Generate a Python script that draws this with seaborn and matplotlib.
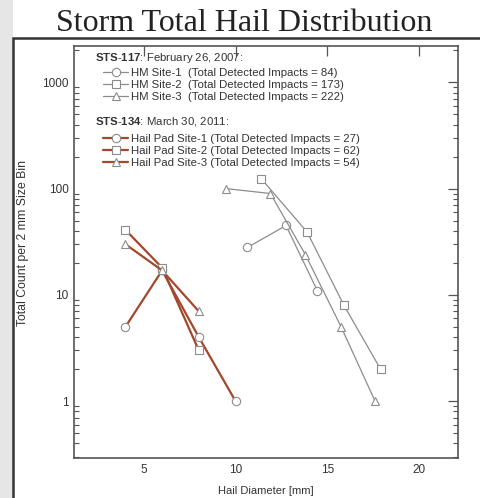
import matplotlib
matplotlib.use("Agg")
import matplotlib.pyplot as plt
import seaborn as sns
import numpy as np
from matplotlib.patches import Rectangle
from matplotlib.ticker import LogLocator, FixedLocator, NullFormatter, FuncFormatter

# ---- data ----
hm1_x = [10.65, 12.75, 14.45]
hm1_y = [28, 45, 11]
hm2_x = [11.4, 13.9, 15.9, 17.9]
hm2_y = [124, 39, 8, 2]
hm3_x = [9.5, 11.9, 13.8, 15.75, 17.6]
hm3_y = [100, 90, 24, 5, 1]

hp1_x = [4, 6, 8, 10]
hp1_y = [5, 17, 4, 1]
hp2_x = [4, 6, 8]
hp2_y = [41, 18, 3]
hp3_x = [4, 6, 8]
hp3_y = [30, 17, 7]

hm_labels = ["HM Site-1  (Total Detected Impacts = 84)",
             "HM Site-2  (Total Detected Impacts = 173)",
             "HM Site-3  (Total Detected Impacts = 222)"]
hp_labels = ["Hail Pad Site-1 (Total Detected Impacts = 27)",
             "Hail Pad Site-2 (Total Detected Impacts = 62)",
             "Hail Pad Site-3 (Total Detected Impacts = 54)"]
hm_header = r"$\mathbf{STS\text{-}117}$: February 26, 2007:"
hp_header = r"$\mathbf{STS\text{-}134}$: March 30, 2011:"
x_ticks = [5, 10, 15, 20]
y_ticks = [1, 10, 100, 1000]

sns.set_theme(style="white")
plt.rcParams['font.family'] = ['Liberation Sans', 'DejaVu Sans']
plt.rcParams['mathtext.fontset'] = 'custom'
plt.rcParams['mathtext.rm'] = 'Liberation Sans'
plt.rcParams['mathtext.bf'] = 'Liberation Sans:bold'

W, H = 481, 498
fig = plt.figure(figsize=(W / 100, H / 100), dpi=100)
fig.patch.set_facecolor('white')

# outer grey margin + frame
fig.patches.append(Rectangle((0, 0), 13 / W, 1, transform=fig.transFigure,
                             facecolor='#e6e6e6', edgecolor='none', zorder=-2))
fig.patches.append(Rectangle((13 / W, -0.02), 1.0, (H - 38.5) / H + 0.02,
                             transform=fig.transFigure, facecolor='white',
                             edgecolor='#333333', linewidth=1.8, zorder=-1))

fig.text(244 / W, (H - 31) / H, "Storm Total Hail Distribution", ha='center',
         va='baseline', fontsize=23, family='Liberation Serif', color='#222222')

ax = fig.add_axes([74 / W, (H - 458.3) / H, (457.7 - 74) / W, (458.3 - 46) / H])
ax.set_zorder(2)
ax.set_facecolor('white')

grey = '#8c8c8c'
brown = '#a3472d'
hm_sets = [(hm1_x, hm1_y, 'o'), (hm2_x, hm2_y, 's'), (hm3_x, hm3_y, '^')]
hp_sets = [(hp1_x, hp1_y, 'o'), (hp2_x, hp2_y, 's'), (hp3_x, hp3_y, '^')]

hm_handles = []
for (xs, ys, m), lab in zip(hm_sets, hm_labels):
    sns.lineplot(x=xs, y=ys, ax=ax, color=grey, linewidth=0.9, marker=m,
                 markersize=6, markerfacecolor='white', markeredgecolor=grey,
                 markeredgewidth=0.8, label=lab, legend=False)
    hm_handles.append(ax.lines[-1])
hp_handles = []
for (xs, ys, m), lab in zip(hp_sets, hp_labels):
    sns.lineplot(x=xs, y=ys, ax=ax, color=brown, linewidth=1.6, marker=m,
                 markersize=6, markerfacecolor='white', markeredgecolor=grey,
                 markeredgewidth=0.8, label=lab, legend=False)
    hp_handles.append(ax.lines[-1])

ax.set_yscale('log')
ax.set_xlim(1.2, 22.1)
ax.set_ylim(0.29, 2200)
ax.xaxis.set_major_locator(FixedLocator(x_ticks))
ax.yaxis.set_major_locator(FixedLocator(y_ticks))
ax.yaxis.set_major_formatter(FuncFormatter(lambda v, p: f"{v:g}"))
ax.yaxis.set_minor_locator(LogLocator(base=10, subs=np.arange(2, 10)))
ax.yaxis.set_minor_formatter(NullFormatter())

ax.tick_params(axis='both', which='major', direction='in', length=7, width=0.9,
               color='#555555', labelsize=8.5, labelcolor='#333333',
               top=True, right=True, pad=4)
ax.tick_params(axis='y', which='minor', direction='in', length=3.5, width=0.8,
               color='#555555', left=True, right=True)
for s in ax.spines.values():
    s.set_color('#555555')
    s.set_linewidth(1.2)

ax.set_xlabel("Hail Diameter [mm]", fontsize=8, color='#333333', labelpad=7)
ax.set_ylabel("Total Count per 2 mm Size Bin", fontsize=8.8, color='#333333')
ax.yaxis.set_label_coords(-0.118, 0.522)

def axx(px):
    return (px - 74) / (457.7 - 74)

def axy(py):
    return 1 - (py - 46) / (458.3 - 46)

leg_kw = dict(frameon=False, loc='upper left', borderaxespad=0, borderpad=0,
              fontsize=8.2, handlelength=2.2, handletextpad=0.3,
              labelspacing=0.2)
ax.text(axx(95), axy(58), hm_header, transform=ax.transAxes, fontsize=8.2,
        color='#333333', va='center', ha='left')
leg1 = ax.legend(handles=hm_handles, labels=hm_labels,
                 bbox_to_anchor=(axx(103), axy(67.5)), **leg_kw)
for t in leg1.get_texts():
    t.set_color('#333333')
ax.add_artist(leg1)
ax.text(axx(95), axy(122), hp_header, transform=ax.transAxes, fontsize=8.2,
        color='#333333', va='center', ha='left')
leg2 = ax.legend(handles=hp_handles, labels=hp_labels,
                 bbox_to_anchor=(axx(103), axy(133.5)), **leg_kw)
for t in leg2.get_texts():
    t.set_color('#333333')

fig.savefig("out.png", dpi=100)
